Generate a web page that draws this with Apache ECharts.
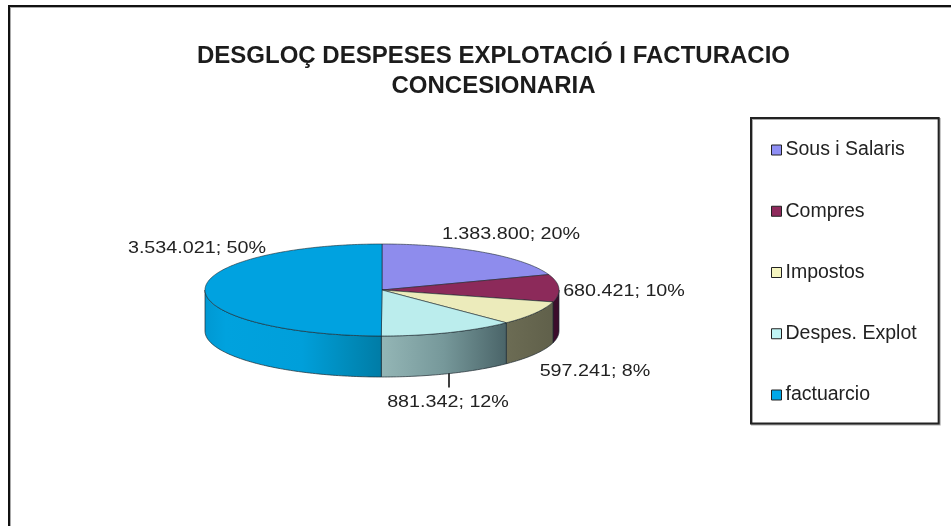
<!DOCTYPE html>
<html>
<head>
<meta charset="utf-8">
<style>html,body{margin:0;padding:0;background:#fff}#c{width:951px;height:526px}</style>
<script src="https://cdn.jsdelivr.net/npm/echarts@6/dist/echarts.min.js"></script>
</head>
<body>
<div id="c"></div>
<script>
const categories = ['Sous i Salaris', 'Compres', 'Impostos', 'Despes. Explot', 'factuarcio'];
const values = [1383800, 680421, 597241, 881342, 3534021];
const titleLines = ['DESGLOÇ DESPESES EXPLOTACIÓ I FACTURACIO', 'CONCESIONARIA'];

const topColors = ['#8e8ced', '#8c2a5a', '#ecebbb', '#bbeded', '#00a2e0'];
const legendColors = ['#8f8ff5', '#8f2a5c', '#f5f5c0', '#c0f5f5', '#00a8e8'];
const wallStops = [
  [[0, '#4a4670'], [1, '#4a4670']],
  [[0, '#3c0c2c'], [1, '#3c0c2c']],
  [[0, '#6c6c54'], [1, '#60604a']],
  [[0, '#94b6b6'], [0.5, '#76989a'], [1, '#4a6468']],
  [[0, '#0098d2'], [0.12, '#00a2de'], [0.55, '#009fda'], [0.8, '#008cbc'], [1, '#007ca6']]
];
const PIE = { cx: 382, cy: 290, rx: 177, ry: 46, depth: 41 };
const labelCentres = [[511, 234], [624, 291], [595, 371], [448, 402], [197, 248]];
const leaderLengths = [0, 0, 0, 12, 0];

const total = values.reduce((a, b) => a + b, 0);
const fmt = v => String(v).replace(/\B(?=(\d{3})+$)/g, '.');
const pt = (deg, dy) => {
  const r = deg * Math.PI / 180;
  return [PIE.cx + PIE.rx * Math.sin(r), PIE.cy - PIE.ry * Math.cos(r) + (dy || 0)];
};
const arc = (a, b, dy) => {
  const out = [];
  const n = Math.max(2, Math.ceil(Math.abs(b - a)));
  for (let i = 0; i <= n; i++) out.push(pt(a + (b - a) * i / n, dy));
  return out;
};

let cumulative = 0;
const series = categories.map((name, i) => {
  const start = cumulative / total * 360;
  cumulative += values[i];
  const end = cumulative / total * 360;
  return {
    type: 'custom',
    name,
    coordinateSystem: 'none',
    silent: true,
    animation: false,
    itemStyle: { color: legendColors[i] },
    data: [[values[i], start, end]],
    renderItem: (params, api) => {
      const v = api.value(0), a = api.value(1), b = api.value(2);
      const children = [];
      const wa = Math.max(a, 90), wb = Math.min(b, 270);
      if (wb > wa) {
        children.push({
          type: 'polygon',
          z2: 1,
          shape: { points: arc(wa, wb, 0).concat(arc(wb, wa, PIE.depth)) },
          style: {
            fill: new echarts.graphic.LinearGradient(0, 0, 1, 0,
              wallStops[i].map(s => ({ offset: s[0], color: s[1] }))),
            stroke: '#1e2a30', lineWidth: 0.7
          }
        });
      }
      children.push({
        type: 'polygon',
        z2: 2,
        shape: { points: [[PIE.cx, PIE.cy]].concat(arc(a, b, 0)) },
        style: { fill: topColors[i], stroke: '#1e2a30', lineWidth: 0.6 }
      });
      if (leaderLengths[i]) {
        const base = pt((a + b) / 2, PIE.depth);
        children.push({
          type: 'line',
          z2: 3,
          shape: { x1: Math.round(base[0]), y1: base[1], x2: Math.round(base[0]), y2: base[1] + leaderLengths[i] + 2 },
          style: { stroke: '#000', lineWidth: 1.5 }
        });
      }
      children.push({
        type: 'text',
        z2: 4,
        x: labelCentres[i][0],
        y: labelCentres[i][1],
        scaleX: 1.16,
        style: {
          text: fmt(v) + '; ' + Math.round(v / total * 100) + '%',
          x: 0, y: 0,
          font: '17px "Liberation Sans"',
          fill: '#222',
          textAlign: 'center',
          textVerticalAlign: 'middle'
        }
      });
      return { type: 'group', children };
    }
  };
});

const chart = echarts.init(document.getElementById('c'), null, { renderer: 'canvas' });
chart.setOption({
  animation: false,
  backgroundColor: '#fff',
  title: {
    text: titleLines.join('\n'),
    left: 488.5,
    top: 36,
    textAlign: 'center',
    textStyle: {
      fontFamily: 'Liberation Sans',
      fontWeight: 'bold',
      fontSize: 24,
      lineHeight: 30,
      color: '#1c1c1c'
    }
  },
  legend: {
    data: categories,
    orient: 'vertical',
    left: 751,
    top: 118,
    padding: [21.5, 22, 18, 20],
    itemGap: 40.25,
    itemWidth: 10,
    itemHeight: 10,
    icon: 'rect',
    selectedMode: false,
    itemStyle: { borderColor: '#222', borderWidth: 1 },
    backgroundColor: '#fff',
    borderColor: '#222',
    borderWidth: 2,
    shadowColor: '#aaa',
    shadowBlur: 0,
    shadowOffsetX: 1,
    shadowOffsetY: 1,
    textStyle: {
      fontFamily: 'Liberation Sans',
      fontSize: 19.5,
      lineHeight: 18,
      color: '#222',
      padding: [3, 0, 0, -1]
    }
  },
  graphic: [{
    type: 'rect',
    silent: true,
    z: -1,
    shape: { x: 9, y: 6, width: 1000, height: 600 },
    style: { fill: 'none', stroke: '#111', lineWidth: 2, shadowColor: '#aaa', shadowBlur: 0, shadowOffsetX: 1, shadowOffsetY: 1 }
  }],
  series
});
</script>
</body>
</html>
